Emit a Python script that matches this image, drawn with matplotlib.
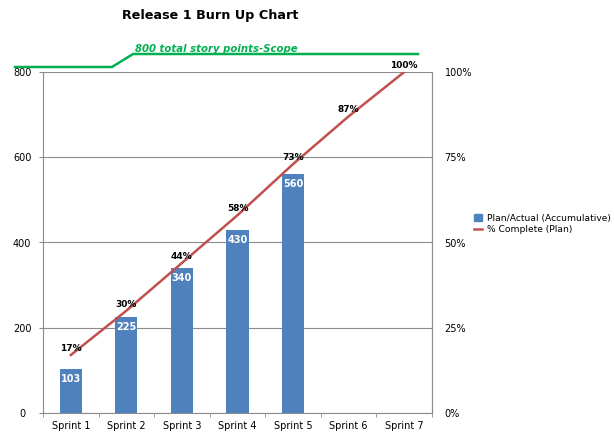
import matplotlib
matplotlib.use("Agg")
import matplotlib.pyplot as plt
from matplotlib.patches import Patch
from matplotlib.lines import Line2D

sprints = ["Sprint 1", "Sprint 2", "Sprint 3", "Sprint 4", "Sprint 5", "Sprint 6", "Sprint 7"]
actual = [103, 225, 340, 430, 560]
pct_complete = [17, 30, 44, 58, 73, 87, 100]
scope_total = 800
left_ticks = [0, 200, 400, 600, 800]
right_ticks = [0, 25, 50, 75, 100]

blue = "#4F81BD"
red = "#C0504D"
green = "#00B050"
grid = "#8C8C8C"

fig = plt.figure(figsize=(6.14, 4.44), dpi=100)
ax = fig.add_axes([43/614, 31/444, (432-43)/614, (413-72)/444])
ax2 = ax.twinx()

x = list(range(len(sprints)))
bars = ax.bar(x[:len(actual)], actual, width=0.4, color=blue, zorder=3)
for xi, v in zip(x, actual):
    ax.text(xi, v - 12, str(v), ha="center", va="top", color="white",
            fontsize=7, fontweight="bold", zorder=4)

ax.set_xlim(-0.5, len(sprints) - 0.5)
ax.set_ylim(0, 800)
ax.set_yticks(left_ticks)
ax.set_yticklabels([str(t) for t in left_ticks], fontsize=7)
ax.set_xticks(x)
ax.set_xticklabels(sprints, fontsize=7)
ax.set_xticks([i - 0.5 for i in range(len(sprints) + 1)], minor=True)
ax.tick_params(axis="x", which="major", length=0, pad=6)
ax.tick_params(axis="x", which="minor", length=3, color=grid)
ax.tick_params(axis="y", length=3, color=grid, pad=12)
for t in ax.get_yticklabels():
    t.set_horizontalalignment("center")
ax.grid(axis="y", color=grid, linewidth=0.8, zorder=0)
ax.set_axisbelow(True)
ax.spines["top"].set_visible(False)
for s in ["left", "bottom", "right"]:
    ax.spines[s].set_color(grid)

ax2.plot(x, pct_complete, color=red, linewidth=1.8, zorder=5)
for xi, p in zip(x, pct_complete):
    ax2.text(xi, p + 0.6, f"{p}%", ha="center", va="bottom", fontsize=6.5,
             fontweight="bold", color="black", zorder=6)
ax2.set_ylim(0, 100)
ax2.set_yticks(right_ticks)
ax2.set_yticklabels([f"{t}%" for t in right_ticks], fontsize=7)
ax2.tick_params(axis="y", length=0, pad=9)
for s in ["top", "left", "bottom"]:
    ax2.spines[s].set_visible(False)
ax2.spines["right"].set_color(grid)

# Scope line above the plot (figure coordinates)
fx = [15/614, 112/614, 133/614, 418/614]
fy = [1 - 67/444, 1 - 67/444, 1 - 54/444, 1 - 54/444]
fig.add_artist(Line2D(fx, fy, color=green, linewidth=1.8, transform=fig.transFigure))
fig.text(135/614, 1 - 52.5/444, f"{scope_total} total story points-Scope", color=green,
         fontsize=7.3, fontweight="bold", fontstyle="italic", ha="left", va="baseline")

fig.text(210/614, 1 - 15/444, "Release 1 Burn Up Chart", fontsize=9.2, fontweight="bold",
         ha="center", va="center")

handles = [Patch(facecolor=blue, edgecolor=blue), Line2D([0], [0], color=red, linewidth=1.8)]
fig.legend(handles, ["Plan/Actual (Accumulative)", "% Complete (Plan)"],
           loc="center left", bbox_to_anchor=(474/614, 1 - 224/444), frameon=False,
           fontsize=6.6, handlelength=0.9, handleheight=0.9, handletextpad=0.5,
           labelspacing=0.25, borderaxespad=0, borderpad=0)

fig.savefig("out.png", dpi=100)
